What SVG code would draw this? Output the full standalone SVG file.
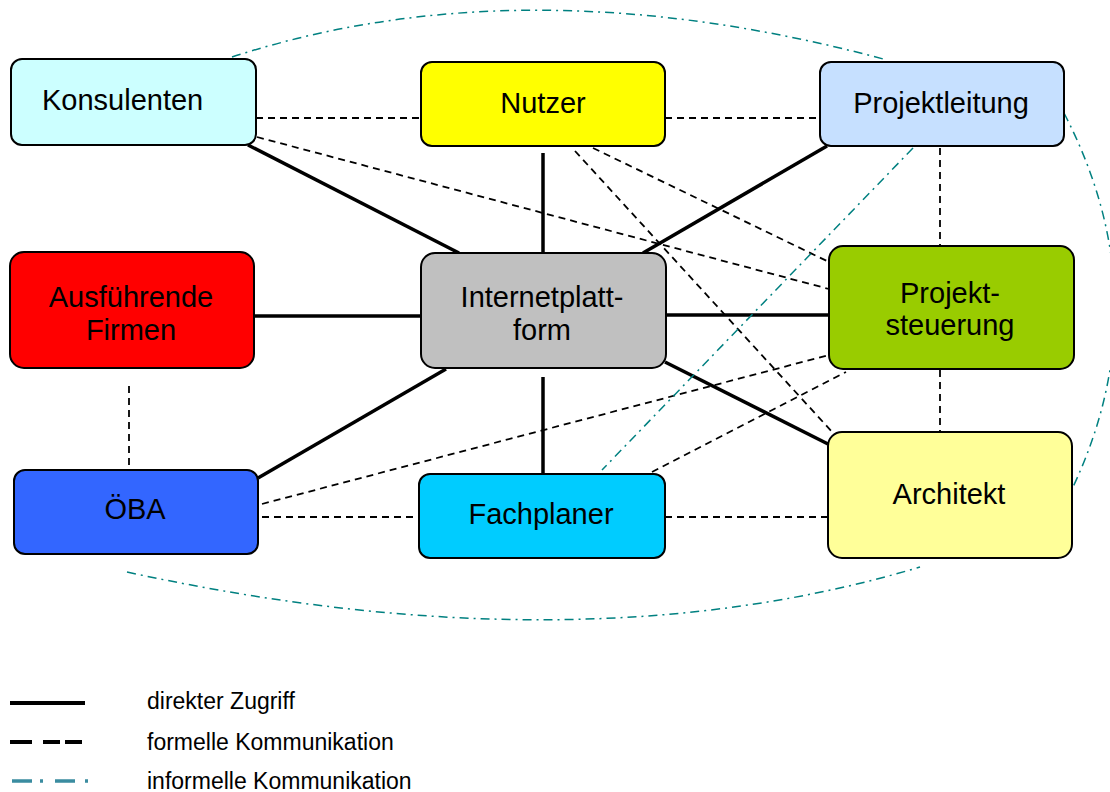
<svg xmlns="http://www.w3.org/2000/svg" width="1110" height="792" viewBox="0 0 1110 792">
  <style>
    .box { stroke: #000; stroke-width: 2; }
    .lbl { font-family: "Liberation Sans", Arial, sans-serif; font-size: 29px; fill: #000; text-anchor: middle; }
    .leg { font-family: "Liberation Sans", Arial, sans-serif; font-size: 23px; fill: #000; }
    .direct { stroke: #000; stroke-width: 3.5; fill: none; }
    .formal { stroke: #000; stroke-width: 1.8; stroke-dasharray: 7 5; fill: none; }
    .informal { stroke: #008080; stroke-width: 1.5; stroke-dasharray: 9 5 2 5; fill: none; }
  </style>

  <rect width="1110" height="792" fill="#fff"/>

  <!-- connectors -->
  <g id="connectors">
    <!-- direct access to the platform -->
    <line class="direct" x1="248" y1="145" x2="459" y2="253"/>
    <line class="direct" x1="543" y1="153" x2="543" y2="253"/>
    <line class="direct" x1="827" y1="146" x2="643" y2="253"/>
    <line class="direct" x1="254" y1="316" x2="421" y2="316"/>
    <line class="direct" x1="666" y1="315" x2="829" y2="315"/>
    <line class="direct" x1="446" y1="369" x2="258" y2="478"/>
    <line class="direct" x1="543" y1="377" x2="543" y2="474"/>
    <line class="direct" x1="665" y1="362" x2="828" y2="444"/>

    <!-- formal communication -->
    <line class="formal" x1="256" y1="118" x2="421" y2="118"/>
    <line class="formal" x1="665" y1="118" x2="820" y2="118"/>
    <line class="formal" x1="257" y1="137" x2="829" y2="289"/>
    <line class="formal" x1="593" y1="148" x2="829" y2="262"/>
    <line class="formal" x1="575" y1="151" x2="834" y2="434"/>
    <line class="formal" x1="940" y1="148" x2="940" y2="246"/>
    <line class="formal" x1="940" y1="370" x2="940" y2="432"/>
    <line class="formal" x1="262" y1="504" x2="829" y2="355"/>
    <line class="formal" x1="652" y1="472" x2="846" y2="372"/>
    <line class="formal" x1="262" y1="517" x2="419" y2="517"/>
    <line class="formal" x1="665" y1="517" x2="828" y2="517"/>
    <line class="formal" x1="129" y1="386" x2="129" y2="466"/>

    <!-- informal communication -->
    <path class="informal" d="M232,57 Q525,-38 887,60"/>
    <path class="informal" d="M1064,113 Q1161,300 1073,487"/>
    <path class="informal" d="M127,572 Q577,670 920,567"/>
    <line class="informal" x1="913" y1="148" x2="602" y2="470"/>
  </g>

  <!-- nodes -->
  <g id="konsulenten">
    <rect class="box" x="11" y="59" width="245" height="86" rx="11" fill="#CCFFFF"/>
    <text class="lbl" x="42" y="110" style="text-anchor:start">Konsulenten</text>
  </g>
  <g id="nutzer">
    <rect class="box" x="421" y="62" width="244" height="84" rx="11" fill="#FFFF00"/>
    <text class="lbl" x="543" y="113">Nutzer</text>
  </g>
  <g id="projektleitung">
    <rect class="box" x="820" y="62" width="244" height="84" rx="11" fill="#C6E0FF"/>
    <text class="lbl" x="941" y="113">Projektleitung</text>
  </g>
  <g id="ausfuehrende-firmen">
    <rect class="box" x="10" y="252" width="244" height="116" rx="14" fill="#FF0000"/>
    <text class="lbl" x="131" y="307">Ausführende</text>
    <text class="lbl" x="131" y="340">Firmen</text>
  </g>
  <g id="internetplattform">
    <rect class="box" x="421" y="253" width="245" height="115" rx="14" fill="#C0C0C0"/>
    <text class="lbl" x="542" y="307">Internetplatt-</text>
    <text class="lbl" x="542" y="340">form</text>
  </g>
  <g id="projektsteuerung">
    <rect class="box" x="829" y="246" width="245" height="123" rx="14" fill="#99CC00"/>
    <text class="lbl" x="950" y="303">Projekt-</text>
    <text class="lbl" x="950" y="335">steuerung</text>
  </g>
  <g id="oeba">
    <rect class="box" x="14" y="470" width="244" height="84" rx="11" fill="#3366FF"/>
    <text class="lbl" x="135" y="519">ÖBA</text>
  </g>
  <g id="fachplaner">
    <rect class="box" x="419" y="474" width="246" height="84" rx="11" fill="#00CCFF"/>
    <text class="lbl" x="541" y="524">Fachplaner</text>
  </g>
  <g id="architekt">
    <rect class="box" x="828" y="432" width="244" height="126" rx="14" fill="#FFFF99"/>
    <text class="lbl" x="949" y="504">Architekt</text>
  </g>

  <!-- legend -->
  <g id="legend">
    <line x1="10" y1="703" x2="85" y2="703" stroke="#000" stroke-width="4"/>
    <path d="M10,742 H32 M43,742 H60 M65,742 H82" stroke="#000" stroke-width="4" fill="none"/>
    <path d="M12,781 H32 M40,781 H43 M55,781 H75 M85,781 H88" stroke="#3A8CA0" stroke-width="3.5" fill="none"/>
    <text class="leg" x="147" y="709">direkter Zugriff</text>
    <text class="leg" x="147" y="750">formelle Kommunikation</text>
    <text class="leg" x="147" y="789">informelle Kommunikation</text>
  </g>
</svg>
